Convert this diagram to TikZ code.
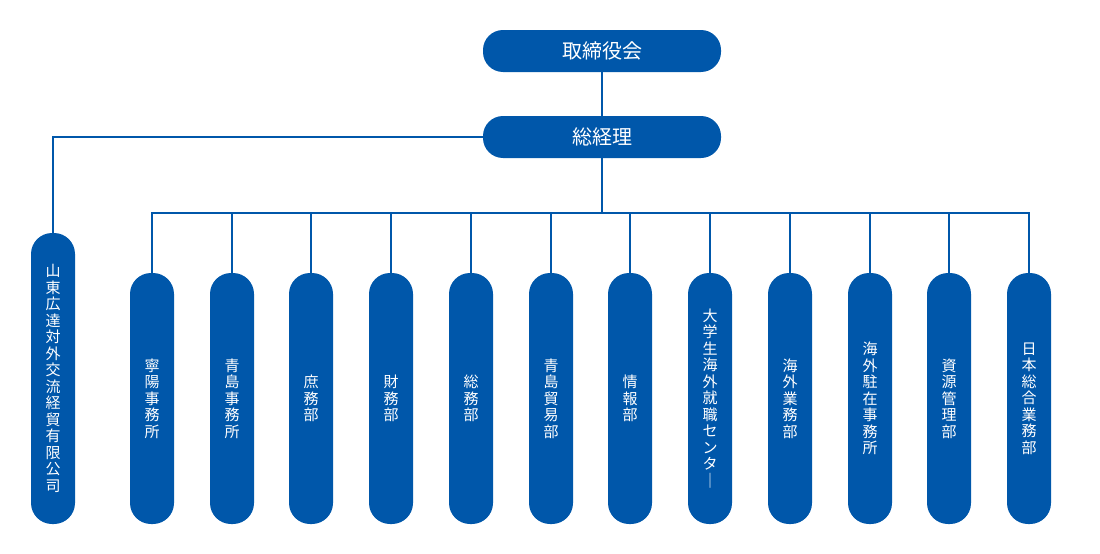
\documentclass[tikz,border=0pt]{standalone}
\usepackage{fontspec}
\setmainfont{Noto Sans CJK JP}
\definecolor{corp}{HTML}{0057AA}
\begin{document}
\begin{tikzpicture}[x=1pt,y=-1pt,
  topbox/.style={fill=corp,rounded corners=20pt,minimum width=238pt,minimum height=42pt,text=white,font=\fontsize{20}{22}\selectfont,inner sep=0pt},
  col/.style={fill=corp,rounded corners=21pt,minimum width=44pt,text=white,align=center,font=\fontsize{15}{16.5}\selectfont,inner sep=0pt},
  conn/.style={draw=corp,line width=1.5pt}]
\useasboundingbox (0,0) rectangle (1100,554);
\node[topbox] (board) at (602,51) {取締役会};
\node[topbox] (gm) at (602,137) {総経理};
\node[col,minimum height=291pt] (c0) at (53,378.5) {山\\東\\広\\達\\対\\外\\交\\流\\経\\貿\\有\\限\\公\\司};
\foreach \i/\x/\t in {1/152/寧\\陽\\事\\務\\所, 2/232/青\\島\\事\\務\\所, 3/311/庶\\務\\部, 4/391/財\\務\\部, 5/471/総\\務\\部, 6/551/青\\島\\貿\\易\\部, 7/630/情\\報\\部, 8/710/大\\学\\生\\海\\外\\就\\職\\セ\\ン\\タ\\｜, 9/790/海\\外\\業\\務\\部, 10/870/海\\外\\駐\\在\\事\\務\\所, 11/949/資\\源\\管\\理\\部, 12/1029/日\\本\\総\\合\\業\\務\\部}
  \node[col,minimum height=251pt] (c\i) at (\x,398.5) {\t};
\coordinate (bus) at (602,213);
\draw[conn] (board) -- (gm);
\draw[conn] (gm.west) -| (c0.north);
\draw[conn] (gm.south) -- (bus);
\draw[conn] (c1.north) |- (bus) -| (c12.north);
\foreach \i in {2,...,11} \draw[conn] (c\i.north) -- (c\i.north |- bus);
\end{tikzpicture}
\end{document}
